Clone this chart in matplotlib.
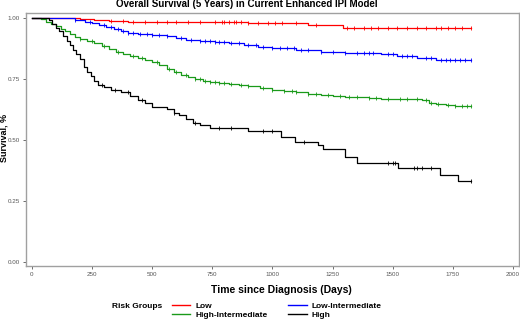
import matplotlib
matplotlib.use("Agg")
import matplotlib.pyplot as plt
from matplotlib.lines import Line2D
import numpy as np

plt.rcParams['font.family'] = ['Liberation Sans', 'DejaVu Sans']

groups = ["Low", "Low-Intermediate", "High-Intermediate", "High"]
colors = {"Low": "#ff0000", "Low-Intermediate": "#0000ff",
          "High-Intermediate": "#1a9a1a", "High": "#000000"}

low_t = [0, 150, 200, 260, 320, 400, 600, 900, 1000, 1150, 1294]
low_s = [1.0, 0.998, 0.995, 0.992, 0.988, 0.985, 0.982, 0.980, 0.977, 0.970, 0.957]
low_cens = [330, 380, 420, 470, 520, 560, 600, 650, 700, 760, 790, 800, 820, 840, 850, 870,
            900, 940, 980, 1010, 1040, 1100, 1180, 1310, 1340, 1380, 1410, 1440, 1480,
            1520, 1560, 1600, 1640, 1680, 1700, 1730, 1760, 1790, 1826]

lowint_t = [0, 130, 180, 220, 250, 280, 310, 340, 370, 400, 440, 500, 560, 600, 640, 700,
            760, 820, 880, 940, 1000, 1100, 1200, 1300, 1400, 1450, 1520, 1600, 1680]
lowint_s = [1.0, 0.998, 0.993, 0.985, 0.978, 0.970, 0.962, 0.954, 0.946, 0.940, 0.934,
            0.930, 0.927, 0.918, 0.910, 0.905, 0.902, 0.896, 0.889, 0.882, 0.877, 0.869,
            0.861, 0.857, 0.855, 0.850, 0.842, 0.835, 0.828]
lowint_cens = [180, 240, 300, 330, 360, 380, 400, 420, 450, 480, 500, 530, 560, 620, 660,
               700, 720, 740, 760, 780, 800, 830, 860, 900, 930, 960, 1000, 1030, 1060,
               1090, 1120, 1150, 1200, 1250, 1300, 1350, 1380, 1400, 1420, 1480, 1500,
               1540, 1560, 1580, 1640, 1660, 1700, 1720, 1740, 1760, 1780, 1800, 1826]

highint_t = [0, 40, 60, 80, 100, 120, 140, 160, 180, 200, 230, 260, 290, 320, 350, 380,
             410, 440, 470, 500, 530, 560, 590, 620, 650, 680, 710, 740, 780, 820, 860,
             900, 950, 1000, 1050, 1100, 1150, 1200, 1250, 1300, 1400, 1450, 1620, 1650,
             1680, 1720, 1760]
highint_s = [1.0, 0.995, 0.985, 0.975, 0.965, 0.955, 0.945, 0.932, 0.922, 0.915, 0.905,
             0.895, 0.885, 0.873, 0.862, 0.853, 0.845, 0.837, 0.828, 0.818, 0.805, 0.790,
             0.778, 0.765, 0.757, 0.750, 0.743, 0.737, 0.733, 0.730, 0.725, 0.720, 0.713,
             0.706, 0.700, 0.695, 0.688, 0.682, 0.680, 0.676, 0.670, 0.666, 0.662, 0.652,
             0.646, 0.642, 0.638]
highint_cens = [200, 250, 300, 360, 420, 460, 520, 570, 600, 640, 680, 700, 720, 740, 760,
                780, 800, 830, 870, 900, 960, 1000, 1050, 1080, 1100, 1150, 1180, 1230,
                1280, 1320, 1350, 1400, 1430, 1480, 1530, 1560, 1600, 1640, 1660, 1690,
                1730, 1760, 1790, 1810, 1826]

high_t = [0, 70, 85, 100, 115, 130, 145, 160, 170, 185, 200, 215, 230, 245, 260, 275, 300,
          330, 370, 410, 440, 470, 500, 560, 590, 610, 640, 670, 700, 740, 900, 1035,
          1095, 1190, 1210, 1300, 1352, 1522, 1698, 1772]
high_s = [1.0, 0.99, 0.975, 0.96, 0.945, 0.925, 0.905, 0.89, 0.87, 0.85, 0.83, 0.80, 0.78,
          0.76, 0.74, 0.725, 0.715, 0.705, 0.695, 0.68, 0.665, 0.65, 0.635, 0.625, 0.61,
          0.60, 0.585, 0.57, 0.56, 0.548, 0.535, 0.51, 0.49, 0.478, 0.462, 0.43, 0.405,
          0.385, 0.357, 0.33]
high_cens = [290, 345, 400, 460, 590, 680, 780, 830, 960, 1000, 1130, 1480, 1500, 1510,
             1590, 1600, 1620, 1660, 1826]

series = {
    "Low": (low_t, low_s, low_cens),
    "Low-Intermediate": (lowint_t, lowint_s, lowint_cens),
    "High-Intermediate": (highint_t, highint_s, highint_cens),
    "High": (high_t, high_s, high_cens),
}
end_time = 1826

x_ticks = [0, 250, 500, 750, 1000, 1250, 1500, 1750, 2000]
y_ticks = [0.00, 0.25, 0.50, 0.75, 1.00]

W, H = 520, 321
fig = plt.figure(figsize=(W / 100, H / 100), dpi=100)
ax = fig.add_axes([26 / W, 1 - 266 / H, (519 - 26) / W, (266 - 13) / H])

for g in groups:
    t, s, c = series[g]
    tt = np.array(list(t) + [end_time])
    ss = np.array(list(s) + [s[-1]])
    ax.step(tt, ss, where="post", color=colors[g], lw=0.9)
    c = np.array(c)
    idx = np.searchsorted(np.array(t), c, side="right") - 1
    cy = np.array(s)[idx]
    ax.plot(c, cy, linestyle="none", marker="|", color=colors[g], ms=3.5, mew=0.6)

ax.set_xlim(-24, 2025)
ax.set_ylim(-0.017, 1.02)
ax.set_xticks(x_ticks)
ax.set_xticklabels([str(v) for v in x_ticks])
ax.set_yticks(y_ticks)
ax.set_yticklabels([f"{v:.2f}" for v in y_ticks])
ax.tick_params(axis="both", labelsize=4.5, colors="#555555", length=2.5, width=0.6,
               pad=2.0)
for sp in ax.spines.values():
    sp.set_color("#a0a0a0")
    sp.set_linewidth(1.0)

fig.text(247 / W, 1 - 4 / H, "Overall Survival (5 Years) in Current Enhanced IPI Model",
         ha="center", va="center", fontsize=7, fontweight="bold")
fig.text(281 / W, 1 - 290 / H, "Time since Diagnosis (Days)", ha="center", va="center",
         fontsize=7.5, fontweight="bold")
fig.text(4 / W, 1 - 138 / H, "Survival, %", ha="center", va="center", rotation=90,
         fontsize=6.5, fontweight="bold")
fig.text(112 / W, 1 - 306 / H, "Risk Groups", ha="left", va="center", fontsize=6,
         fontweight="bold")

order = ["Low", "High-Intermediate", "Low-Intermediate", "High"]
handles = [Line2D([0], [0], color=colors[g], lw=1.0) for g in order]
leg = fig.legend(handles, order, ncol=2, loc="center left",
                 bbox_to_anchor=(166 / W, 1 - 310.5 / H), frameon=False,
                 prop={"size": 6, "weight": "bold"}, handlelength=2.2,
                 handletextpad=0.6, columnspacing=2.5, labelspacing=0.15,
                 borderpad=0.2)

fig.savefig("out.png", dpi=100)
